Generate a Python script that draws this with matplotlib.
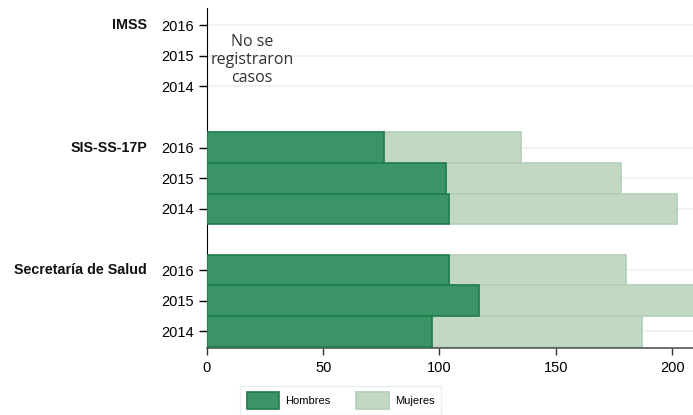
import matplotlib.pyplot as plt
import numpy as np

# Casos por institución y año
GROUPS = ["IMSS", "SIS-SS-17P", "Secretaría de Salud"]
YEARS = ["2016", "2015", "2014"]
HOMBRES = [[0, 0, 0], [76, 103, 104], [104, 117, 97]]
MUJERES = [[0, 0, 0], [59, 75, 98], [76, 98, 90]]
HAS_DATA = [False, True, True]

C_H, E_H = "#3b9465", "#1f7c4b"
C_M, E_M = "#c2d8c4", "#b3ceb6"

plt.rcParams["font.family"] = ["Liberation Sans", "DejaVu Sans"]

fig = plt.figure(figsize=(6.93, 4.15), dpi=100)
ax = fig.add_axes([0.2985, 0.161, 0.7015, 0.82])

pos, labels = [], []
for gi, g in enumerate(GROUPS):
    for yi, yr in enumerate(YEARS):
        p = gi * 4 + yi
        pos.append(p)
        labels.append(yr)
        ax.axhline(p, color="#eef3f6", lw=1.5, zorder=0)
        if HAS_DATA[gi]:
            h = HOMBRES[gi][yi]
            m = MUJERES[gi][yi]
            ax.barh(p, h, height=1.0, color=C_H, edgecolor=E_H, lw=1.2, zorder=3,
                    label="Hombres" if (gi, yi) == (1, 0) else None)
            ax.barh(p, m, left=h, height=1.0, color=C_M, edgecolor=E_M, lw=1.2, zorder=2,
                    label="Mujeres" if (gi, yi) == (1, 0) else None)
    ax.text(-0.123, gi * 4, g, transform=ax.get_yaxis_transform(), ha="right",
            va="center", fontsize=10.3, fontweight="bold", color="#111111")

ax.text(19.3, 1.15, "No se\nregistraron\ncasos", ha="center", va="center",
        fontsize=11.5, color="#333333", family="Open Sans", linespacing=1.15)

ax.set_yticks(pos)
ax.set_yticklabels(labels, fontsize=10.5)
ax.set_ylim(10.55, -0.56)
ax.set_xlim(0, 209)
ax.set_xticks([0, 50, 100, 150, 200])
ax.tick_params(axis="y", length=6, width=1, pad=3)
ax.tick_params(axis="x", length=5, width=1, labelsize=10.5, pad=4, color="#333333")
for s in ["top", "right"]:
    ax.spines[s].set_visible(False)
ax.spines["left"].set_color("black")
ax.spines["bottom"].set_color("#555555")
ax.spines["bottom"].set_linewidth(1.2)

leg = fig.legend(loc="upper left", bbox_to_anchor=(0.339, 0.083), ncol=2,
                 fontsize=8, frameon=True, fancybox=False, handlelength=2.9,
                 handleheight=2.0, columnspacing=2.3, borderpad=0.55,
                 handletextpad=0.6)
leg.get_frame().set_edgecolor("#e3eaee")
leg.get_frame().set_linewidth(1.0)

fig.savefig("out.png", dpi=100)
